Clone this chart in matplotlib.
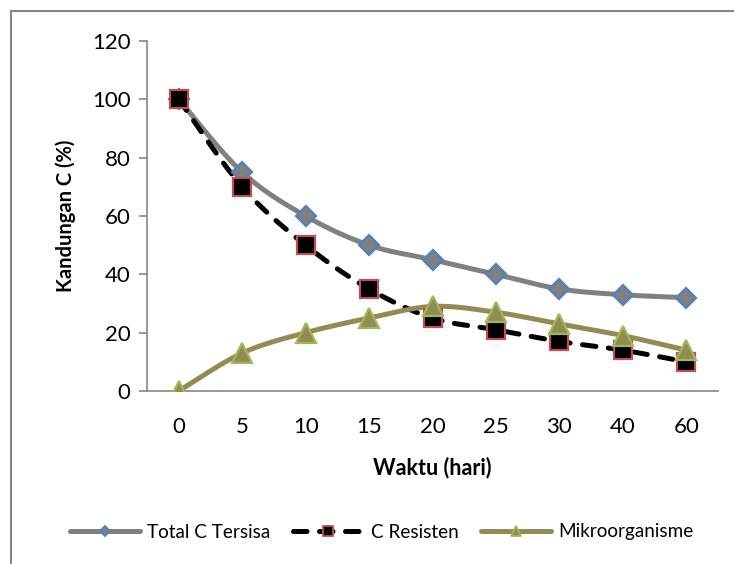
import numpy as np
import matplotlib
matplotlib.use("Agg")
import matplotlib.pyplot as plt
from matplotlib.lines import Line2D
from matplotlib.patches import Rectangle

plt.rcParams['font.family'] = ['Lato', 'DejaVu Sans']

days = ["0", "5", "10", "15", "20", "25", "30", "40", "60"]
total_c = [100, 75, 60, 50, 45, 40, 35, 33, 32]
c_resisten = [100, 70, 50, 35, 25, 21, 17, 14, 10]
mikroorganisme = [0, 13, 20, 25, 29, 27, 23, 19, 14]
y_ticks = [0, 20, 40, 60, 80, 100, 120]


def smooth(xs, ys, n=30):
    """Catmull-Rom curve through the points (spreadsheet-style smoothed line)."""
    xs = np.asarray(xs, float)
    ys = np.asarray(ys, float)
    px = np.concatenate([[xs[0]], xs, [xs[-1]]])
    py = np.concatenate([[ys[0]], ys, [ys[-1]]])
    ox, oy = [], []
    for i in range(1, len(px) - 2):
        t = np.linspace(0, 1, n)
        p0x, p1x, p2x, p3x = px[i - 1:i + 3]
        p0y, p1y, p2y, p3y = py[i - 1:i + 3]
        b1x, b1y = p1x + (p2x - p0x) / 6, p1y + (p2y - p0y) / 6
        b2x, b2y = p2x - (p3x - p1x) / 6, p2y - (p3y - p1y) / 6
        ox.append((1 - t) ** 3 * p1x + 3 * (1 - t) ** 2 * t * b1x + 3 * (1 - t) * t ** 2 * b2x + t ** 3 * p2x)
        oy.append((1 - t) ** 3 * p1y + 3 * (1 - t) ** 2 * t * b1y + 3 * (1 - t) * t ** 2 * b2y + t ** 3 * p2y)
    return np.concatenate(ox), np.concatenate(oy)


fig = plt.figure(figsize=(7.34, 5.64), dpi=100)
ax = fig.add_axes([147 / 734, 173 / 564, 571 / 734, 350 / 564])

x = np.arange(len(days))

LW = 3.6
series = [
    dict(y=total_c, color="#808080", ls="-", marker="D", mfc="#808080", mec="#4F81BD", ms=10, label="Total C Tersisa"),
    dict(y=c_resisten, color="black", ls=(0, (2.7, 2.5)), marker="s", mfc="black", mec="#C0504D", ms=13, label="C Resisten"),
    dict(y=mikroorganisme, color="#948A54", ls="-", marker="^", mfc="#948A54", mec="#9BBB59", ms=14, label="Mikroorganisme"),
]

handles = []
for s in series:
    sx, sy = smooth(x, s["y"])
    ax.plot(sx, sy, color=s["color"], lw=LW, ls=s["ls"], dash_capstyle="round",
            solid_capstyle="round", zorder=2)
for s in series:
    ax.plot(x, s["y"], ls="none", marker=s["marker"], ms=s["ms"], mfc=s["mfc"],
            mec=s["mec"], mew=1.6, zorder=3)
    handles.append(Line2D([], [], color=s["color"], lw=LW, ls=s["ls"], dash_capstyle="round",
                          solid_capstyle="round", marker=s["marker"], ms=s["ms"] * 0.55,
                          mfc=s["mfc"], mec=s["mec"], mew=1.3, label=s["label"]))

ax.set_xlim(-0.5, len(days) - 0.5)
ax.set_ylim(0, 120)
ax.set_xticks(x)
ax.set_xticklabels(days)
ax.set_yticks(y_ticks)
ax.tick_params(axis="x", length=0, pad=19, labelsize=16)
ax.tick_params(axis="y", length=6, width=1.2, color="#868686", pad=6, labelsize=16, direction="out")
for side in ("top", "right"):
    ax.spines[side].set_visible(False)
for side in ("left", "bottom"):
    ax.spines[side].set_color("#868686")
    ax.spines[side].set_linewidth(1.2)

ax.set_xlabel("Waktu (hari)", fontsize=15.5, fontweight="bold", labelpad=14)
ax.set_ylabel("Kandungan C (%)", fontsize=14.5, fontweight="bold", labelpad=11)

fig.legend(handles=handles, loc="center", bbox_to_anchor=(382 / 734, (564 - 532) / 564),
           ncol=3, frameon=False, fontsize=13.6, handlelength=3.7, columnspacing=1.2,
           handletextpad=0.4)

# chart area border
fig.patches.append(Rectangle((11 / 734, -0.05), 1.2, (564 - 11) / 564 + 0.05, transform=fig.transFigure,
                             fill=False, edgecolor="#868686", lw=1.5))

fig.savefig("out.png", dpi=100)
